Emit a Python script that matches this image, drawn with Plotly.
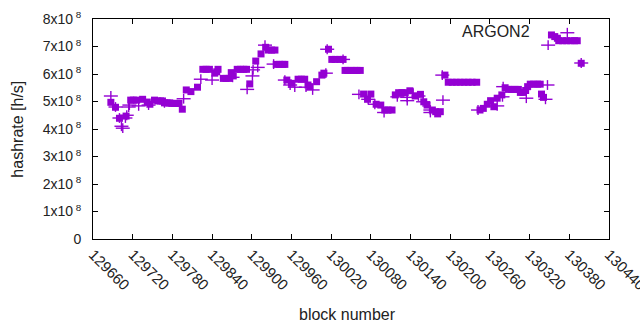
import plotly.graph_objects as go

# Square-marker series (block number, hashrate)
sq_blocks = [129687, 129694, 129700, 129710, 129717, 129721, 129726, 129735, 129742, 129746,
             129753, 129758, 129762, 129765, 129768, 129772, 129776, 129779, 129783, 129786,
             129790, 129795, 129801, 129808, 129818, 129826, 129831, 129836, 129844, 129847,
             129849, 129857, 129861, 129866, 129869, 129872, 129878, 129883, 129888, 129892,
             129897, 129906, 129914, 129921, 129925, 129930, 129935, 129937, 129942, 129947,
             129950, 129953, 129960, 129970, 129975, 129980, 129985, 129988, 129998, 130006,
             130009, 130016, 130021, 130026, 130033, 130038, 130041, 130045, 130050, 130055,
             130059, 130064, 130069, 130075, 130080, 130088, 130095, 130101, 130106, 130112,
             130117, 130122, 130127, 130132, 130139, 130147, 130155, 130160, 130165, 130173,
             130178, 130181, 130185, 130192, 130197, 130203, 130209, 130215, 130221, 130227,
             130233, 130240, 130245, 130250, 130256, 130261, 130266, 130271, 130278, 130283,
             130288, 130293, 130298, 130303, 130306, 130310, 130314, 130317, 130321, 130326,
             130332, 130336, 130338, 130341, 130353, 130358, 130362, 130364, 130370, 130376,
             130382, 130388, 130392, 130398]
sq_rate_e8 = [4.97, 4.79, 4.39, 4.47, 5.05, 5.05, 5.05, 5.08, 4.98, 4.90,
              5.05, 5.02, 5.02, 5.02, 4.95, 4.95, 4.95, 4.93, 4.93, 4.93,
              4.93, 4.72, 5.42, 5.36, 5.52, 6.17, 6.17, 6.17, 6.03, 6.08,
              6.17, 5.84, 5.84, 5.84, 6.05, 5.93, 6.17, 6.17, 6.17, 6.17,
              5.64, 6.47, 6.73, 6.97, 6.87, 6.87, 6.87, 6.35, 6.35, 6.35,
              6.35, 5.78, 5.66, 5.81, 5.81, 5.81, 5.60, 5.54, 5.72, 5.96,
              6.03, 6.90, 6.53, 6.53, 6.53, 6.53, 6.13, 6.13, 6.13, 6.13,
              6.13, 6.13, 5.27, 5.08, 5.27, 4.90, 4.87, 4.69, 4.69, 4.69,
              5.24, 5.32, 5.32, 5.32, 5.39, 5.20, 5.26, 4.99, 4.87, 4.69,
              4.63, 4.55, 4.63, 5.96, 5.70, 5.70, 5.70, 5.70, 5.70, 5.70,
              5.70, 5.70, 4.69, 4.75, 4.90, 5.03, 4.81, 5.12, 5.24, 5.50,
              5.44, 5.44, 5.44, 5.44, 5.33, 5.33, 5.40, 5.54, 5.63, 5.63,
              5.63, 5.63, 5.27, 5.15, 7.42, 7.36, 7.30, 7.21, 7.21, 7.21,
              7.21, 7.21, 7.21, 6.39]

# Plus-marker series (block number, hashrate)
plus_blocks = [129687, 129694, 129700, 129703, 129705, 129709, 129711, 129714, 129715, 129729,
               129744, 129768, 129797, 129823, 129840, 129871, 129893, 129901, 129902, 129909,
               129920, 129933, 129950, 129958, 129965, 129982, 129992, 130012, 130014, 130038,
               130062, 130076, 130086, 130100, 130120, 130135, 130135, 130144, 130152, 130159,
               130170, 130170, 130188, 130189, 130242, 130271, 130279, 130280, 130315, 130344,
               130347, 130348, 130377, 130398]
plus_rate_e8 = [5.20, 4.80, 4.40, 4.10, 4.03, 4.40, 4.50, 4.80, 4.87, 4.84,
                4.87, 4.95, 5.10, 5.81, 5.78, 5.88, 5.44, 5.93, 6.15, 6.24,
                7.05, 6.36, 5.78, 5.60, 5.52, 5.52, 5.42, 6.03, 6.90, 6.53,
                5.26, 5.08, 4.90, 4.60, 5.17, 5.15, 5.03, 5.30, 5.20, 4.99,
                4.69, 4.60, 5.96, 5.05, 4.69, 4.84, 5.17, 5.54, 5.12, 5.08,
                5.60, 7.05, 7.50, 6.40]

x_ticks = list(range(129660, 130441, 60))
y_ticks = [i * 1e8 for i in range(0, 9)]
y_ticktext = ["0"] + [f"{i}x10<sup> 8</sup>" for i in range(1, 9)]

COLOR = "#9400D3"
FONT = "Liberation Sans, Arial, sans-serif"

sq_rate = [v * 1e8 for v in sq_rate_e8]
plus_rate = [v * 1e8 for v in plus_rate_e8]

fig = go.Figure()
fig.add_trace(go.Scatter(x=sq_blocks, y=sq_rate, mode="markers",
                         marker=dict(symbol="square", size=7, color=COLOR, line=dict(width=0)),
                         showlegend=False))
fig.add_trace(go.Scatter(x=plus_blocks, y=plus_rate, mode="markers",
                         marker=dict(symbol="line-ew", size=10, color=COLOR,
                                     line=dict(width=1.4, color=COLOR)),
                         showlegend=False))
fig.add_trace(go.Scatter(x=plus_blocks, y=plus_rate, mode="markers",
                         marker=dict(symbol="line-ns", size=7, color=COLOR,
                                     line=dict(width=1.4, color=COLOR)),
                         showlegend=False))

axis_common = dict(showgrid=False, zeroline=False, showline=True, linecolor="black",
                   linewidth=1, mirror="allticks", ticks="inside", ticklen=5,
                   tickcolor="black", tickwidth=1, automargin=False,
                   ticklabeloverflow="allow")

fig.update_layout(
    width=640, height=330,
    margin=dict(l=93, r=31, t=19, b=91),
    paper_bgcolor="white", plot_bgcolor="white",
    xaxis=dict(range=[129660, 130440], tickmode="array", tickvals=x_ticks,
               ticktext=[str(v) for v in x_ticks], tickangle=45,
               tickfont=dict(family=FONT, size=15, color="#222222"), **axis_common),
    yaxis=dict(range=[0, 8e8], tickmode="array", tickvals=y_ticks,
               ticktext=y_ticktext, ticklabelstandoff=8,
               tickfont=dict(family=FONT, size=14, color="#222222"), **axis_common),
    annotations=[
        dict(text="ARGON2", xref="paper", yref="paper", x=0.851, y=0.941,
             xanchor="right", yanchor="middle", showarrow=False,
             font=dict(family=FONT, size=16, color="#222222")),
        dict(text="block number", xref="paper", yref="paper", x=0.494, y=-0.345,
             xanchor="center", yanchor="middle", showarrow=False,
             font=dict(family=FONT, size=16, color="#222222")),
        dict(text="hashrate [h/s]", xref="paper", yref="paper", x=-0.148, y=0.5,
             xanchor="center", yanchor="middle", textangle=-90, showarrow=False,
             font=dict(family=FONT, size=16, color="#222222")),
    ],
)

fig.write_html("out.html", config={"displayModeBar": False},
               post_script="document.body.style.margin='0px';")
